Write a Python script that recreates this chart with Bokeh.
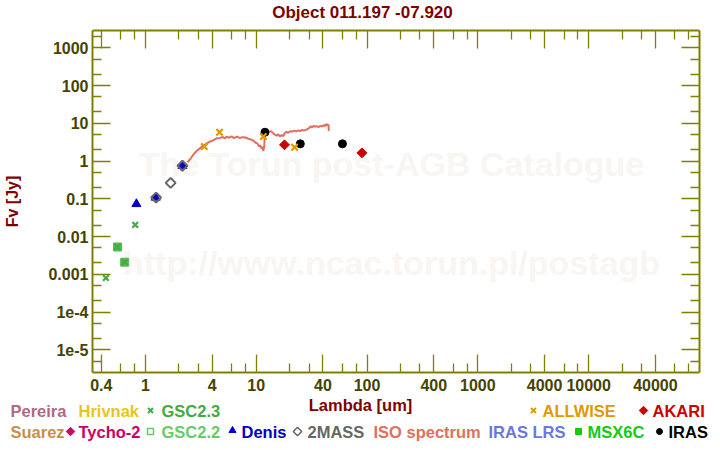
import numpy as np
from bokeh.plotting import figure
from bokeh.layouts import column
from bokeh.models import FixedTicker, CustomJSTickFormatter, Label, Range1d, LogAxis, ColumnDataSource
from bokeh.core.properties import value
from bokeh.embed import file_html
from bokeh.resources import INLINE

# ---------------- data ----------------
title_text = "Object 011.197 -07.920"
x_label = "Lambda [um]"
y_label = "Fv [Jy]"

x_major = [0.4, 1, 4, 10, 40, 100, 400, 1000, 4000, 10000, 40000]
x_major_labels = ["0.4", "1", "4", "10", "40", "100", "400", "1000", "4000", "10000", "40000"]
x_minor = [0.6, 0.8, 2, 3, 6, 8, 20, 30, 60, 80, 200, 300, 600, 800,
           2000, 3000, 6000, 8000, 20000, 30000, 60000, 80000]
y_major = [1e-5, 1e-4, 1e-3, 0.01, 0.1, 1, 10, 100, 1000]
y_major_labels = ["1e-5", "1e-4", "0.001", "0.01", "0.1", "1", "10", "100", "1000"]
y_minor = [5e-6, 2e-5, 5e-5, 2e-4, 5e-4, 2e-3, 5e-3, 0.02, 0.05, 0.2, 0.5,
           2, 5, 20, 50, 200, 500, 2000]

# ISO spectrum
iso_wl = [2.40, 2.55, 2.72, 2.90, 3.12, 3.35, 3.59, 3.85, 4.12, 4.40, 4.73, 5.00, 5.20,
          5.40, 5.70, 6.00, 6.30, 6.70, 7.10, 7.50, 8.00, 8.50, 9.00, 9.45, 9.90, 10.3,
          10.6, 10.9, 11.2, 11.4, 11.6, 11.8, 12.0, 12.4, 13.0, 13.6, 14.2, 14.8, 15.3,
          15.8, 16.4, 17.0, 17.6, 18.2, 18.8, 19.5, 20.2, 21.0, 22.0, 23.0, 24.0, 25.0,
          26.0, 27.0, 28.5, 30.0, 31.0, 32.0, 33.0, 34.0, 35.0, 36.5, 38.0, 39.5, 41.0,
          42.0, 43.0, 44.0, 45.0, 45.2]
iso_f = [0.93, 1.15, 1.50, 1.85, 2.20, 2.60, 2.95, 3.30, 3.60, 4.00, 4.10, 4.35, 3.95,
         4.40, 4.15, 4.50, 4.05, 4.45, 4.10, 4.30, 4.20, 3.90, 3.70, 3.45, 3.05, 2.90,
         2.45, 2.60, 2.15, 2.40, 1.85, 2.40, 5.60, 6.10, 5.90, 6.20, 5.50, 5.00, 4.70,
         5.10, 4.50, 4.90, 4.60, 5.60, 5.90, 5.60, 6.20, 6.00, 6.40, 6.10, 6.50, 6.20,
         6.70, 6.40, 6.80, 7.40, 8.40, 7.80, 8.60, 8.10, 8.40, 7.90, 8.60, 8.20, 9.00,
         8.40, 9.60, 8.80, 9.20, 6.30]

gsc23_wl = [0.44, 0.56, 0.65, 0.81]
gsc23_f = [0.0008, 0.0053, 0.0021, 0.0204]
gsc22_wl = [0.56, 0.65]
gsc22_f = [0.0053, 0.0021]
denis_wl = [0.83, 1.24, 2.16]
denis_f = [0.073, 0.108, 0.75]
tmass_wl = [1.25, 1.69, 2.16]
tmass_f = [0.108, 0.264, 0.75]
iras_wl = [12, 25, 60]
iras_f = [5.8, 2.86, 2.86]
allwise_wl = [3.4, 4.67, 11.6, 22.2]
allwise_f = [2.42, 5.8, 4.46, 2.32]
akari_wl = [18, 90]
akari_f = [2.69, 1.65]

# legend (catalogue names)
legend_row1 = ["Pereira", "Hrivnak", "GSC2.3", "ALLWISE", "AKARI"]
legend_row2 = ["Suarez", "Tycho-2", "GSC2.2", "Denis", "2MASS", "ISO spectrum",
               "IRAS LRS", "MSX6C", "IRAS"]

# ---------------- styles ----------------
OLIVE = "#808000"
TICKLAB = "#444400"
DARKRED = "#800000"
FONT = "Liberation Sans"

C_PEREIRA = "#b06a82"
C_HRIVNAK = "#e6c619"
C_GSC23 = "#44aa44"
C_ALLWISE = "#e09a00"
C_AKARI = "#cc0000"
C_SUAREZ = "#c4904a"
C_TYCHO = "#cc0066"
C_GSC22 = "#66cc66"
C_DENIS = "#0000c8"
C_2MASS = "#666666"
C_ISO = "#e0705c"
C_LRS = "#6a78dc"
C_MSX = "#11cc11"
C_IRAS = "#000000"

W = 712
H_TOP = 22
H_MAIN = 374
H_LEG = 46


def strip(h, y0):
    f = figure(width=W, height=h, x_range=Range1d(0, W), y_range=Range1d(y0 + h, y0),
               output_backend="svg", toolbar_location=None, x_axis_location=None,
               y_axis_location=None, min_border=0)
    f.frame_align = False
    f.min_border_left = f.min_border_right = f.min_border_top = f.min_border_bottom = 0
    f.outline_line_color = None
    f.xgrid.visible = False
    f.ygrid.visible = False
    f.border_fill_color = "white"
    return f


# ---------------- title strip ----------------
t = strip(H_TOP, 0)
t.text(x=[362], y=[12], text=[title_text], text_color=DARKRED, text_font=value(FONT),
       text_font_style="bold", text_font_size="17px", text_align="center",
       text_baseline="middle")

# ---------------- main plot ----------------
p = figure(width=W, height=H_MAIN, x_axis_type="log", y_axis_type="log",
           x_range=Range1d(1 / 3, 1e5), y_range=Range1d(10 ** -5.6, 10 ** 3.458),
           output_backend="svg", toolbar_location=None,
           min_border_left=92, min_border_right=13, min_border_top=8, min_border_bottom=24)
p.frame_align = False
p.outline_line_color = None
p.xgrid.visible = False
p.ygrid.visible = False
p.background_fill_color = "white"
p.border_fill_color = "white"


def make_formatter(vals, labs):
    return CustomJSTickFormatter(args=dict(vals=vals, labs=labs), code="""
        for (let i = 0; i < vals.length; i++) {
            if (Math.abs(Math.log10(tick / vals[i])) < 1e-6) { return labs[i]; }
        }
        return "";
    """)


def style_axis(ax, major, minor, labs, show):
    ax.ticker = FixedTicker(ticks=major, minor_ticks=minor)
    ax.axis_line_color = OLIVE
    ax.axis_line_width = 2
    ax.major_tick_line_color = OLIVE
    ax.minor_tick_line_color = OLIVE
    ax.major_tick_line_width = 1.3
    ax.minor_tick_line_width = 1.3
    ax.major_tick_in = 18
    ax.major_tick_out = 0
    ax.minor_tick_in = 9
    ax.minor_tick_out = 0
    if show:
        ax.formatter = make_formatter(major, labs)
        ax.major_label_text_font = FONT
        ax.major_label_text_font_style = "bold"
        ax.major_label_text_font_size = "16px"
        ax.major_label_text_color = TICKLAB
        ax.major_label_standoff = 4
    else:
        ax.formatter = make_formatter(major, ["" for _ in major])
        ax.major_label_text_font_size = "0px"
        ax.major_label_standoff = 0


style_axis(p.xaxis[0], x_major, x_minor, x_major_labels, True)
p.xaxis[0].major_label_standoff = 6
style_axis(p.yaxis[0], y_major, y_minor, y_major_labels, True)
p.yaxis[0].axis_label = y_label
p.yaxis[0].axis_label_text_font = FONT
p.yaxis[0].axis_label_text_font_style = "bold"
p.yaxis[0].axis_label_text_font_size = "16px"
p.yaxis[0].axis_label_text_color = DARKRED
p.yaxis[0].axis_label_standoff = 24

top_ax = LogAxis()
right_ax = LogAxis()
p.add_layout(top_ax, "above")
p.add_layout(right_ax, "right")
style_axis(top_ax, x_major, x_minor, x_major_labels, False)
style_axis(right_ax, y_major, y_minor, y_major_labels, False)

# frame position in picture pixels (left, bottom)
FL, FB = 92, 372


def watermark(txt, X, Y):
    p.add_layout(Label(x=X - FL, y=FB - Y, x_units="screen", y_units="screen", text=txt,
                       text_color="#f8f5f2", text_font_size="34px", text_font=FONT,
                       text_font_style="bold", text_align="center", text_baseline="middle",
                       level="underlay"))


watermark("The Torun post-AGB Catalogue", 391, 163)
watermark("http://www.ncac.torun.pl/postagb", 391, 262)

# data glyphs
p.line(iso_wl, iso_f, line_color=C_ISO, line_width=2)
p.scatter(gsc22_wl, gsc22_f, marker="square", size=8, fill_color="#55bb55",
          line_color="#55bb55", line_width=1)
p.scatter(gsc23_wl, gsc23_f, marker="x", size=8, line_color=C_GSC23, line_width=2.2)
p.scatter(denis_wl, denis_f, marker="triangle", size=9, fill_color=C_DENIS,
          line_color=C_DENIS, line_width=1)
p.scatter(tmass_wl, tmass_f, marker="square", angle=np.pi / 4, size=7, fill_color=None,
          line_color=C_2MASS, line_width=2)
p.scatter(iras_wl, iras_f, marker="circle", size=8, fill_color=C_IRAS, line_color=C_IRAS)
p.scatter(akari_wl, akari_f, marker="square", angle=np.pi / 4, size=7, fill_color=C_AKARI,
          line_color=C_AKARI, line_width=1)
p.scatter(allwise_wl, allwise_f, marker="x", size=9, line_color=C_ALLWISE, line_width=2.2)

# ---------------- legend strip (pixel coordinates) ----------------
q = strip(H_LEG, H_TOP + H_MAIN)

R1, R2 = 410, 431
q.text(x=[360], y=[404], text=[x_label], text_color=DARKRED, text_font=value(FONT),
       text_font_style="bold", text_font_size="16.5px", text_align="center",
       text_baseline="middle")

leg_src = ColumnDataSource(dict(
    x=[10, 78, 161, 542, 652, 10, 78, 161, 241, 307, 373, 488, 587, 668],
    y=[R1] * 5 + [R2] * 9,
    text=legend_row1 + legend_row2,
    color=[C_PEREIRA, C_HRIVNAK, C_GSC23, C_ALLWISE, C_AKARI,
           C_SUAREZ, C_TYCHO, C_GSC22, C_DENIS, C_2MASS, C_ISO, C_LRS, C_MSX, C_IRAS],
))
q.text(x="x", y="y", text="text", text_color="color", source=leg_src, text_font=value(FONT),
       text_font_style="bold", text_font_size="16.5px", text_align="left",
       text_baseline="middle")

# legend symbols
q.scatter([150, 533], [R1, R1], marker="x", size=7, line_color=[C_GSC23, C_ALLWISE], line_width=2)
q.scatter([643, 70], [R1, R2], marker="square", angle=np.pi / 4, size=6,
          fill_color=[C_AKARI, C_TYCHO], line_color=[C_AKARI, C_TYCHO])
q.scatter([150], [R2], marker="square", size=6, fill_color=None, line_color=C_GSC22, line_width=1.5)
q.scatter([232], [R2 - 1], marker="triangle", size=7, fill_color=C_DENIS, line_color=C_DENIS)
q.scatter([297], [R2], marker="square", angle=np.pi / 4, size=6, fill_color=None,
          line_color=C_2MASS, line_width=1.5)
q.scatter([578], [R2], marker="square", size=6, fill_color=C_MSX, line_color=C_MSX)
q.scatter([659], [R2], marker="circle", size=6, fill_color=C_IRAS, line_color=C_IRAS)

layout = column(t, p, q, spacing=0)
open("out.html", "w").write(file_html(layout, INLINE))
